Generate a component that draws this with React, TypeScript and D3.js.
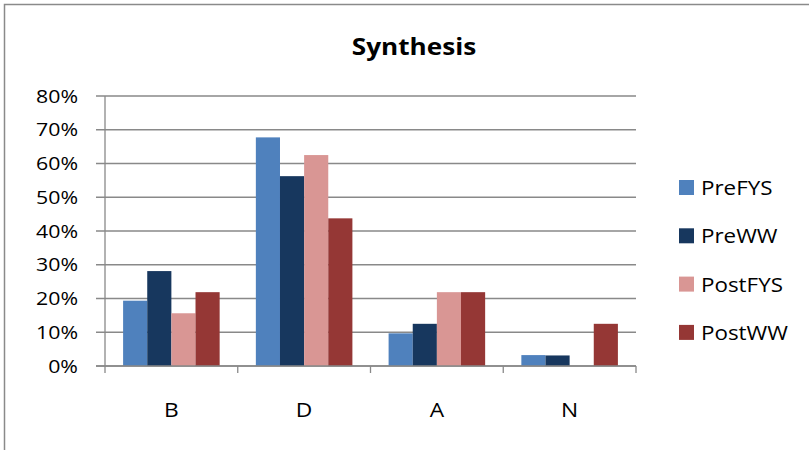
import React from "react";
import * as d3 from "d3";

const categories = ["B", "D", "A", "N"];
const seriesNames = ["PreFYS", "PreWW", "PostFYS", "PostWW"];
const preFYS = [0.1935, 0.6774, 0.0968, 0.0323];
const preWW = [0.28125, 0.5625, 0.125, 0.03125];
const postFYS = [0.15625, 0.625, 0.21875, 0];
const postWW = [0.21875, 0.4375, 0.21875, 0.125];
const yTicks = [0, 0.1, 0.2, 0.3, 0.4, 0.5, 0.6, 0.7, 0.8];
const colors = ["#4F81BD", "#17375E", "#D99694", "#953735"];
const title = "Synthesis";

const seriesValues = [preFYS, preWW, postFYS, postWW];

export default function App() {
  const W = 809;
  const H = 450;
  const left = 105;
  const right = 636;
  const top = 96;
  const bottom = 366;
  const font = "'Open Sans', sans-serif";
  const sx = 1.14;

  const x0 = d3.scaleBand<string>().domain(categories).range([left, right]).paddingInner(0).paddingOuter(0);
  const x1 = d3.scaleBand<string>().domain(seriesNames).range([0, x0.bandwidth()]).paddingInner(0).paddingOuter(0.75);
  const y = d3.scaleLinear().domain([0, 0.8]).range([bottom, top]);
  const fmt = d3.format(".0%");
  const grid = "#898989";

  const catTicks = categories.map((c) => x0(c)!).concat([right]);

  return (
    <svg width={W} height={H} style={{ position: "absolute", left: 0, top: 0, background: "#fff" }} fontFamily={font}>
      <rect x={0} y={0} width={W} height={H} fill="#fff" />
      <rect x={4.5} y={4.5} width={840} height={480} fill="none" stroke="#8a8a8a" strokeWidth={1.5} />
      <text transform={`translate(${414},${55}) scale(1.09,1)`} textAnchor="middle" fontSize={24} fontWeight="bold" fill="#000">
        {title}
      </text>
      {yTicks.map((t) => (
        <g key={t}>
          <line x1={96} x2={right} y1={y(t)} y2={y(t)} stroke={grid} strokeWidth={1.3} />
          <text transform={`translate(${78},${y(t) + 6.7}) scale(${sx},1)`} textAnchor="end" fontSize={18.7} fill="#000">
            {fmt(t)}
          </text>
        </g>
      ))}
      <line x1={left} x2={left} y1={top} y2={bottom} stroke={grid} strokeWidth={1.3} />
      {catTicks.map((tx, i) => (
        <line key={i} x1={tx} x2={tx} y1={bottom} y2={bottom + 7} stroke={grid} strokeWidth={1.3} />
      ))}
      {categories.map((c, ci) => (
        <g key={c}>
          {seriesNames.map((s, si) => {
            const v = seriesValues[si][ci];
            return (
              <rect
                key={s}
                x={x0(c)! + x1(s)!}
                y={y(v)}
                width={x1.bandwidth()}
                height={bottom - y(v)}
                fill={colors[si]}
              />
            );
          })}
          <text transform={`translate(${x0(c)! + x0.bandwidth() / 2},${417}) scale(${sx},1)`} textAnchor="middle" fontSize={20} fill="#000">
            {c}
          </text>
        </g>
      ))}
      <line x1={96} x2={right} y1={bottom} y2={bottom} stroke={grid} strokeWidth={1.3} />
      {seriesNames.map((s, i) => {
        const by = 195 + i * 48.3;
        return (
          <g key={s}>
            <rect x={679} y={by - 15} width={15} height={15} fill={colors[i]} />
            <text transform={`translate(${701},${by}) scale(1.12,1)`} fontSize={20} fill="#000">
              {s}
            </text>
          </g>
        );
      })}
    </svg>
  );
}
